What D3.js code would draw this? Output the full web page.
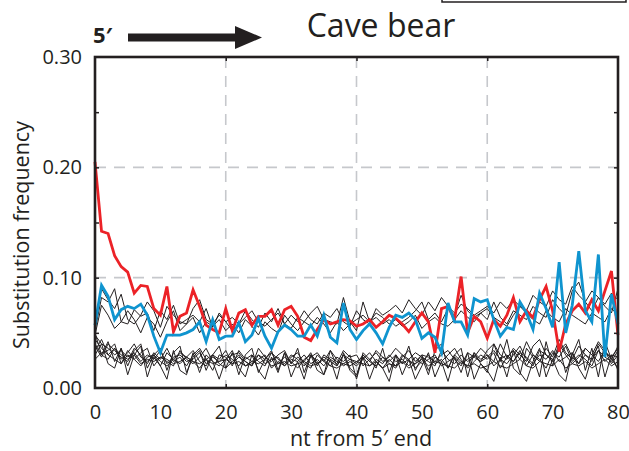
<!DOCTYPE html>
<html>
<head>
<meta charset="utf-8">
<script src="https://cdn.jsdelivr.net/npm/d3@7"></script>
<style>
  body { margin: 0; background: #fff; }
  text { font-family: "Open Sans", sans-serif; fill: #231f20; }
</style>
</head>
<body>
<script>
// nt position from the 5' end
var positions = d3.range(0, 81);

var yTickLabels = [0, 0.1, 0.2, 0.3];
var yMinorTicks = [0.05, 0.1, 0.15, 0.2, 0.25];
var xTickLabels = [0, 10, 20, 30, 40, 50, 60, 70, 80];
var xGrid = [20, 40, 60];
var yGrid = [0.1, 0.2];

// C->T (red)
var ctValues = [
  0.205,0.142,0.140,0.120,0.110,0.105,0.086,0.093,0.092,0.072,
  0.066,0.092,0.051,0.065,0.068,0.089,0.074,0.057,0.053,0.050,
  0.072,0.052,0.068,0.071,0.057,0.065,0.065,0.071,0.057,0.071,
  0.074,0.065,0.046,0.043,0.053,0.062,0.058,0.060,0.062,0.061,
  0.056,0.058,0.062,0.055,0.060,0.066,0.063,0.058,0.051,0.060,
  0.068,0.060,0.032,0.072,0.074,0.062,0.101,0.050,0.065,0.060,
  0.045,0.062,0.056,0.066,0.082,0.060,0.070,0.064,0.080,0.092,
  0.070,0.033,0.058,0.070,0.076,0.068,0.080,0.070,0.088,0.106,
  0.048
];

// G->A (blue)
var gaValues = [
  0.057,0.093,0.083,0.062,0.071,0.074,0.072,0.076,0.066,0.047,
  0.032,0.048,0.048,0.048,0.050,0.053,0.060,0.042,0.062,0.044,
  0.047,0.047,0.059,0.042,0.048,0.063,0.047,0.036,0.051,0.057,
  0.053,0.047,0.047,0.057,0.047,0.066,0.046,0.041,0.077,0.053,
  0.044,0.052,0.058,0.050,0.040,0.055,0.066,0.064,0.068,0.062,
  0.045,0.050,0.046,0.032,0.077,0.060,0.060,0.048,0.081,0.078,
  0.080,0.062,0.047,0.055,0.053,0.078,0.068,0.053,0.086,0.072,
  0.055,0.114,0.050,0.075,0.124,0.070,0.060,0.121,0.028,0.085,
  0.058
];

// other substitutions (black)
var otherA = [
  0.052,0.082,0.078,0.090,0.060,0.058,0.071,0.065,0.068,0.052,
  0.070,0.062,0.075,0.058,0.062,0.066,0.060,0.072,0.055,0.068,
  0.060,0.064,0.058,0.070,0.062,0.055,0.068,0.060,0.072,0.058,
  0.066,0.060,0.070,0.062,0.058,0.068,0.064,0.072,0.060,0.056,
  0.070,0.062,0.058,0.072,0.066,0.070,0.075,0.068,0.080,0.072,
  0.066,0.078,0.070,0.082,0.074,0.068,0.076,0.072,0.066,0.070,
  0.074,0.068,0.078,0.072,0.080,0.074,0.070,0.084,0.078,0.074,
  0.088,0.080,0.076,0.092,0.084,0.078,0.088,0.082,0.076,0.086,
  0.080
];
var otherB = [
  0.060,0.090,0.080,0.072,0.085,0.062,0.058,0.066,0.078,0.070,
  0.055,0.074,0.066,0.060,0.058,0.072,0.080,0.062,0.058,0.066,
  0.060,0.052,0.058,0.064,0.070,0.060,0.056,0.062,0.068,0.058,
  0.054,0.064,0.060,0.068,0.074,0.062,0.060,0.058,0.082,0.060,
  0.052,0.078,0.060,0.064,0.058,0.062,0.056,0.060,0.064,0.070,
  0.078,0.062,0.068,0.060,0.072,0.066,0.084,0.070,0.064,0.068,
  0.062,0.078,0.064,0.058,0.070,0.066,0.062,0.074,0.068,0.064,
  0.080,0.072,0.066,0.088,0.096,0.078,0.070,0.082,0.074,0.068,
  0.090
];
var otherC = [
  0.048,0.075,0.066,0.054,0.060,0.070,0.062,0.050,0.064,0.058,
  0.046,0.060,0.070,0.052,0.058,0.064,0.050,0.060,0.056,0.062,
  0.052,0.058,0.050,0.062,0.056,0.048,0.060,0.054,0.050,0.066,
  0.058,0.052,0.060,0.056,0.064,0.058,0.050,0.060,0.052,0.058,
  0.062,0.066,0.060,0.068,0.064,0.058,0.062,0.056,0.060,0.066,
  0.054,0.060,0.064,0.058,0.056,0.062,0.070,0.064,0.060,0.068,
  0.072,0.064,0.060,0.056,0.066,0.074,0.068,0.062,0.058,0.070,
  0.064,0.060,0.072,0.066,0.062,0.058,0.068,0.064,0.060,0.072,
  0.066
];
var otherD = [
  0.048,0.040,0.036,0.030,0.034,0.028,0.032,0.024,0.030,0.026,
  0.034,0.022,0.028,0.030,0.024,0.026,0.032,0.022,0.028,0.024,
  0.030,0.026,0.020,0.028,0.024,0.030,0.022,0.026,0.028,0.020,
  0.026,0.024,0.030,0.022,0.026,0.020,0.028,0.024,0.022,0.026,
  0.024,0.028,0.020,0.026,0.022,0.030,0.024,0.026,0.020,0.028,
  0.022,0.026,0.030,0.020,0.024,0.028,0.022,0.026,0.030,0.024,
  0.028,0.034,0.026,0.030,0.024,0.032,0.028,0.022,0.030,0.026,
  0.034,0.024,0.028,0.032,0.022,0.030,0.026,0.034,0.024,0.030,
  0.028
];
var otherE = [
  0.040,0.030,0.042,0.024,0.036,0.020,0.034,0.040,0.018,0.030,
  0.036,0.016,0.032,0.038,0.014,0.028,0.034,0.016,0.030,0.038,
  0.018,0.032,0.012,0.030,0.036,0.014,0.026,0.034,0.016,0.032,
  0.022,0.036,0.014,0.030,0.024,0.012,0.034,0.020,0.030,0.016,
  0.010,0.032,0.026,0.018,0.036,0.014,0.030,0.022,0.038,0.016,
  0.028,0.012,0.034,0.040,0.018,0.030,0.036,0.010,0.032,0.022,
  0.014,0.040,0.024,0.044,0.018,0.012,0.036,0.028,0.010,0.042,
  0.020,0.038,0.014,0.030,0.044,0.016,0.036,0.010,0.042,0.026,
  0.018
];
var otherF = [
  0.034,0.044,0.030,0.036,0.026,0.032,0.040,0.028,0.024,0.030,
  0.020,0.032,0.026,0.022,0.028,0.034,0.024,0.020,0.030,0.026,
  0.034,0.022,0.028,0.024,0.020,0.030,0.026,0.032,0.022,0.028,
  0.024,0.018,0.026,0.030,0.022,0.028,0.024,0.020,0.030,0.026,
  0.022,0.030,0.024,0.020,0.028,0.024,0.030,0.022,0.026,0.032,
  0.028,0.024,0.020,0.034,0.026,0.022,0.030,0.024,0.028,0.036,
  0.030,0.024,0.040,0.028,0.034,0.026,0.042,0.030,0.024,0.036,
  0.028,0.044,0.032,0.026,0.038,0.030,0.024,0.040,0.032,0.028,
  0.036
];
var otherG = [
  0.030,0.040,0.022,0.018,0.036,0.012,0.030,0.038,0.010,0.028,
  0.020,0.008,0.034,0.016,0.012,0.032,0.014,0.030,0.024,0.008,
  0.026,0.034,0.018,0.010,0.030,0.016,0.008,0.028,0.014,0.032,
  0.010,0.024,0.008,0.030,0.016,0.012,0.026,0.008,0.032,0.018,
  0.012,0.028,0.008,0.024,0.018,0.006,0.030,0.012,0.026,0.008,
  0.020,0.032,0.010,0.024,0.006,0.028,0.014,0.032,0.008,0.022,
  0.016,0.006,0.028,0.010,0.034,0.014,0.006,0.024,0.036,0.010,
  0.026,0.012,0.006,0.032,0.018,0.008,0.028,0.038,0.010,0.030,
  0.016
];
var otherH = [
  0.026,0.032,0.034,0.040,0.022,0.030,0.026,0.032,0.036,0.020,
  0.028,0.024,0.020,0.034,0.026,0.022,0.028,0.036,0.024,0.020,
  0.026,0.030,0.032,0.024,0.020,0.036,0.028,0.024,0.030,0.034,
  0.022,0.028,0.024,0.032,0.020,0.030,0.026,0.022,0.034,0.028,
  0.030,0.020,0.026,0.032,0.024,0.028,0.036,0.030,0.024,0.022,
  0.030,0.028,0.024,0.030,0.034,0.026,0.020,0.032,0.028,0.024,
  0.034,0.040,0.030,0.026,0.036,0.030,0.024,0.038,0.044,0.030,
  0.026,0.034,0.040,0.028,0.022,0.036,0.030,0.042,0.034,0.026,
  0.038
];
var otherI = [
  0.044,0.036,0.030,0.026,0.022,0.034,0.026,0.020,0.028,0.030,
  0.024,0.020,0.026,0.032,0.028,0.024,0.018,0.026,0.030,0.022,
  0.018,0.024,0.030,0.020,0.022,0.026,0.030,0.018,0.024,0.020,
  0.028,0.032,0.022,0.018,0.030,0.024,0.034,0.026,0.020,0.024,
  0.020,0.026,0.032,0.024,0.018,0.026,0.020,0.030,0.026,0.018,
  0.024,0.030,0.022,0.026,0.018,0.030,0.024,0.020,0.032,0.026,
  0.030,0.020,0.026,0.022,0.030,0.038,0.026,0.020,0.034,0.030,
  0.024,0.040,0.030,0.022,0.028,0.036,0.030,0.024,0.034,0.022,
  0.030
];
var otherJ = [
  0.038,0.028,0.040,0.034,0.028,0.024,0.036,0.030,0.022,0.032,
  0.026,0.036,0.024,0.028,0.020,0.030,0.036,0.026,0.016,0.030,
  0.028,0.020,0.034,0.026,0.030,0.024,0.020,0.032,0.026,0.022,
  0.030,0.026,0.020,0.028,0.032,0.024,0.020,0.028,0.024,0.030,
  0.008,0.030,0.024,0.034,0.028,0.022,0.018,0.028,0.034,0.024,
  0.030,0.016,0.028,0.024,0.030,0.036,0.026,0.018,0.024,0.030,
  0.026,0.032,0.018,0.028,0.024,0.034,0.020,0.030,0.026,0.018,
  0.032,0.028,0.038,0.024,0.030,0.026,0.020,0.034,0.028,0.024,
  0.034
];
var otherK = [
  0.050,0.030,0.026,0.036,0.030,0.026,0.030,0.022,0.026,0.024,
  0.028,0.026,0.022,0.024,0.028,0.024,0.022,0.026,0.022,0.024,
  0.026,0.022,0.024,0.020,0.024,0.022,0.026,0.020,0.022,0.024,
  0.020,0.022,0.024,0.020,0.022,0.026,0.020,0.018,0.022,0.020,
  0.024,0.022,0.020,0.024,0.018,0.022,0.020,0.024,0.018,0.022,
  0.026,0.020,0.024,0.022,0.020,0.018,0.024,0.020,0.022,0.018,
  0.020,0.024,0.020,0.018,0.022,0.026,0.020,0.018,0.024,0.022,
  0.020,0.026,0.018,0.022,0.020,0.024,0.018,0.022,0.026,0.020,
  0.024
];

var otherSeries = [otherA, otherB, otherC, otherD, otherE, otherF,
                   otherG, otherH, otherI, otherJ, otherK];

var screen = { width: 629, height: 451 };
var plot = { left: 95, right: 618, top: 57, bottom: 388 };

var svg = d3.select('body').append('svg')
            .attr('width', screen.width)
            .attr('height', screen.height);

var xScale = d3.scaleLinear().domain([0, 80]).range([plot.left, plot.right]);
var yScale = d3.scaleLinear().domain([0, 0.3]).range([plot.bottom, plot.top]);

// dashed grid
svg.append('g').selectAll('line')
   .data(xGrid).enter().append('line')
   .attr('x1', function(d){ return xScale(d); })
   .attr('x2', function(d){ return xScale(d); })
   .attr('y1', plot.top).attr('y2', plot.bottom)
   .attr('stroke', '#c6c8cc').attr('stroke-width', 1.6)
   .attr('stroke-dasharray', '11,8');
svg.append('g').selectAll('line')
   .data(yGrid).enter().append('line')
   .attr('y1', function(d){ return yScale(d); })
   .attr('y2', function(d){ return yScale(d); })
   .attr('x1', plot.left).attr('x2', plot.right)
   .attr('stroke', '#c6c8cc').attr('stroke-width', 1.6)
   .attr('stroke-dasharray', '11,8');

// series
var line = d3.line()
             .x(function(d, i){ return xScale(positions[i]); })
             .y(function(d){ return yScale(d); });

var lines = svg.append('g');
otherSeries.forEach(function(s){
  lines.append('path').datum(s)
       .attr('d', line)
       .attr('fill', 'none')
       .attr('stroke', '#231f20')
       .attr('stroke-width', 1)
       .attr('stroke-linejoin', 'miter');
});
lines.append('path').datum(ctValues)
     .attr('d', line).attr('fill', 'none')
     .attr('stroke', '#ec2227').attr('stroke-width', 2.8);
lines.append('path').datum(gaValues)
     .attr('d', line).attr('fill', 'none')
     .attr('stroke', '#0f94cf').attr('stroke-width', 2.8);

// frame
svg.append('rect')
   .attr('x', plot.left).attr('y', plot.top)
   .attr('width', plot.right - plot.left)
   .attr('height', plot.bottom - plot.top)
   .attr('fill', 'none').attr('stroke', '#231f20').attr('stroke-width', 2.6);

// inner ticks
var tickStyle = function(g){
  g.select('.domain').remove();
  g.selectAll('.tick line').attr('stroke', '#231f20').attr('stroke-width', 1.5);
  g.selectAll('.tick text').remove();
};
svg.append('g').attr('transform', 'translate(' + plot.left + ',0)')
   .call(d3.axisRight(yScale).tickValues(yMinorTicks).tickSize(4)).call(tickStyle);
svg.append('g').attr('transform', 'translate(' + plot.right + ',0)')
   .call(d3.axisLeft(yScale).tickValues(yMinorTicks).tickSize(4)).call(tickStyle);
svg.append('g').attr('transform', 'translate(0,' + plot.bottom + ')')
   .call(d3.axisTop(xScale).tickValues(xGrid).tickSize(4)).call(tickStyle);
svg.append('g').attr('transform', 'translate(0,' + plot.top + ')')
   .call(d3.axisBottom(xScale).tickValues(xGrid).tickSize(4)).call(tickStyle);

// tick labels
var labelStyle = function(g){
  g.select('.domain').remove();
  g.selectAll('.tick line').remove();
  g.selectAll('.tick text').attr('font-size', 20)
   .attr('font-family', '"Open Sans", sans-serif').attr('fill', '#231f20');
};
svg.append('g').attr('transform', 'translate(' + plot.left + ',0)')
   .call(d3.axisLeft(yScale).tickValues(yTickLabels)
           .tickFormat(d3.format('.2f')).tickSize(0).tickPadding(13))
   .call(labelStyle);
svg.append('g').attr('transform', 'translate(0,' + plot.bottom + ')')
   .call(d3.axisBottom(xScale).tickValues(xTickLabels)
           .tickFormat(d3.format('d')).tickSize(0).tickPadding(17))
   .call(labelStyle);

// axis titles
svg.append('text')
   .attr('x', 361).attr('y', 446)
   .attr('text-anchor', 'middle').attr('font-size', 21.5)
   .text('nt from 5\u2032 end');
svg.append('text')
   .attr('transform', 'translate(29,235) rotate(-90)')
   .attr('text-anchor', 'middle').attr('font-size', 21.5)
   .text('Substitution frequency');

// title, 5' arrow
svg.append('text')
   .attr('x', 381).attr('y', 37)
   .attr('text-anchor', 'middle').attr('font-size', 32)
   .text('Cave bear');
svg.append('text')
   .attr('x', 93).attr('y', 43)
   .attr('font-size', 22).attr('font-weight', 'bold')
   .text('5\u2032');
svg.append('path')
   .attr('d', 'M128,33.5 H235 V26 L262,37.5 L235,49 V41.5 H128 Z')
   .attr('fill', '#231f20');

// clipped box edge at the top right
svg.append('path')
   .attr('d', 'M442,0 V2 H626 V0')
   .attr('fill', 'none').attr('stroke', '#231f20').attr('stroke-width', 1.5);
</script>
</body>
</html>
